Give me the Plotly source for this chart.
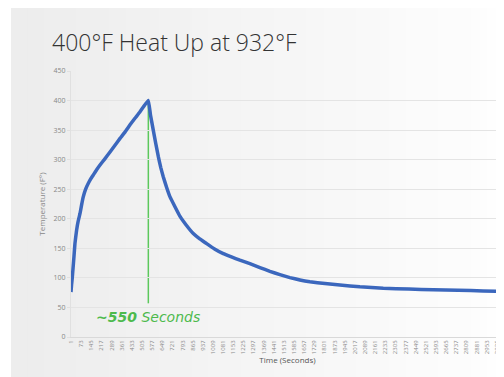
import plotly.graph_objects as go

# ---- data ----
time_s = [1, 5, 10, 15, 22, 29, 41, 52, 65, 76, 88, 105, 124, 140, 159, 183, 207,
          240, 278, 312, 349, 385, 420, 455, 491, 520, 550,
          565, 585, 603, 621, 638, 656, 680, 704, 740, 775, 820, 869, 915, 964,
          1020, 1082, 1140, 1200, 1271, 1342, 1413, 1484, 1555, 1626, 1697, 1804,
          1910, 2052, 2218, 2400, 2572, 2750, 2927, 3075]
temp_f = [76, 88, 100, 115, 136, 158, 181, 196, 209, 223, 237, 250, 260, 267, 274, 283, 291,
          301, 313, 324, 336, 347, 359, 370, 381, 391, 400,
          376, 350, 327, 305, 287, 271, 253, 237, 220, 204, 189, 175, 166, 158,
          149, 141, 135.5, 130, 124, 117.5, 111, 105.5, 100.5, 96.5, 93.5, 90.5,
          88, 85, 82.5, 81, 80, 79, 78, 77]
tick_vals = list(range(1, 3026, 72))
tick_text = [str(v) for v in tick_vals]
y_ticks = list(range(0, 451, 50))
peak_time = 550
peak_temp = 400
title_text = "400°F Heat Up at 932°F"
note_text = "<b>~550</b> Seconds"

fig = go.Figure()

# background gradient panel (gray on left fading to white on right)
n = 30
x0p, x1p = -0.1386, 1.0
shapes = []
for i in range(n):
    a = x0p + (x1p - x0p) * i / n
    b = x0p + (x1p - x0p) * (i + 1) / n + 0.002
    f = i / (n - 1)
    c = int(237 + (254 - 237) * f)
    shapes.append(dict(type="rect", xref="paper", yref="paper", x0=a, x1=b,
                       y0=-0.2, y1=1.3, fillcolor=f"rgb({c},{c},{c})",
                       line=dict(width=0), layer="below"))

# green marker line at the peak
shapes.append(dict(type="line", xref="x", yref="y", x0=peak_time, x1=peak_time,
                   y0=peak_temp, y1=57, line=dict(color="#5cc85c", width=1.5),
                   layer="below"))

fig.add_trace(go.Scatter(
    x=time_s, y=temp_f, mode="lines",
    line=dict(color="#3b67bd", width=3.5, shape="spline", smoothing=0.3),
    hoverinfo="skip", showlegend=False))

fig.update_layout(
    width=496, height=369,
    margin=dict(l=63, r=0, t=63, b=40),
    paper_bgcolor="white", plot_bgcolor="rgba(0,0,0,0)",
    shapes=shapes,
    showlegend=False,
    font=dict(family="Open Sans, sans-serif", color="#777"),
    annotations=[
        dict(text=title_text, xref="paper", yref="paper", x=-0.0485, y=1.11,
             xanchor="left", yanchor="middle", showarrow=False,
             font=dict(family="Open Sans", size=23, color="#333", weight=300)),
        dict(text=note_text, xref="x", yref="y", x=peak_time, y=33,
             xanchor="center", yanchor="middle", showarrow=False,
             font=dict(family="DejaVu Sans", size=14, color="#4dba4d", style="italic")),
    ],
)

fig.update_xaxes(
    range=[1, 3075], tickmode="array", tickvals=tick_vals, ticktext=tick_text,
    tickangle=-90, tickfont=dict(size=6, color="#888"), automargin=False,
    showgrid=False, zeroline=False, showline=True, linecolor="#d9d9d9", linewidth=1,
    title=dict(text="Time (Seconds)", font=dict(size=8, color="#555"), standoff=4),
)
fig.update_yaxes(
    range=[0, 450], tickmode="array", tickvals=y_ticks, automargin=False,
    tickfont=dict(size=7, color="#888"),
    showgrid=True, gridcolor="#e4e4e4", gridwidth=1, zeroline=False,
    showline=True, linecolor="#e0e0e0", ticks="outside", ticklen=3, tickcolor="#e0e0e0",
    title=dict(text="Temperature (F°)", font=dict(size=8, color="#888"), standoff=6),
)

fig.write_html("out.html")
